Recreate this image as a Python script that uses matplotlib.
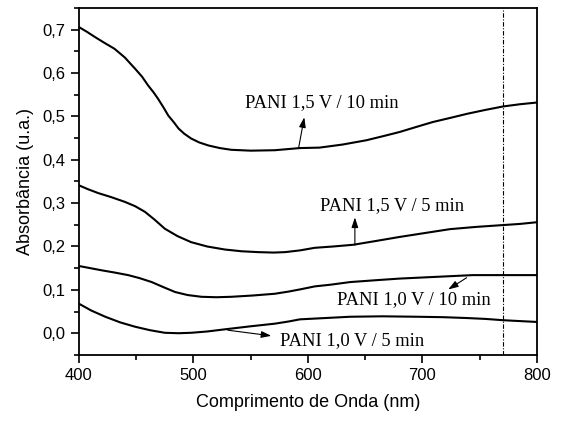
import matplotlib
matplotlib.use("Agg")
import matplotlib.pyplot as plt
from matplotlib.ticker import MultipleLocator, FuncFormatter

# Data
wl_a = [400, 407, 414, 422, 431, 440, 449, 455, 460.5, 465, 469, 474, 478, 483, 487, 492, 498, 505, 513, 523, 533, 550, 571,
        593, 610, 630, 651, 665, 680, 695, 709, 725, 739, 755, 770.6, 785, 800]
abs_a = [0.706, 0.695, 0.683, 0.670, 0.656, 0.636, 0.610, 0.592, 0.571, 0.556, 0.541, 0.520, 0.502, 0.486, 0.472, 0.460, 0.449, 0.440, 0.433, 0.427, 0.423, 0.421, 0.422,
         0.427, 0.428, 0.435, 0.445, 0.454, 0.464, 0.476, 0.487, 0.497, 0.506, 0.515, 0.523, 0.528, 0.532]

wl_b = [400, 408, 417, 428, 440, 449, 457.6, 466, 475, 486, 498, 512, 527.5, 542, 556.6, 570, 580, 593, 606, 622, 639.6, 660, 680, 702, 724, 746, 768, 785, 800]
abs_b = [0.341, 0.332, 0.323, 0.314, 0.303, 0.293, 0.280, 0.262, 0.241, 0.224, 0.210, 0.200, 0.193, 0.189, 0.187, 0.186, 0.187, 0.191, 0.197, 0.200, 0.204, 0.213, 0.222, 0.231, 0.240, 0.245, 0.249, 0.252, 0.256]

wl_c = [400, 410, 420, 431, 443, 453, 463.5, 474, 484, 495, 507, 520, 533, 552, 571, 583, 593, 606, 620, 637, 658, 680, 712, 744, 772, 800]
abs_c = [0.155, 0.150, 0.145, 0.140, 0.134, 0.127, 0.118, 0.106, 0.095, 0.088, 0.084, 0.083, 0.084, 0.087, 0.091, 0.096, 0.101, 0.108, 0.112, 0.118, 0.122, 0.126, 0.130, 0.134, 0.134, 0.134]

wl_d = [400, 411, 423, 436, 449, 462, 475, 487, 498, 512, 527.5, 550, 571, 583, 593, 615, 637, 665, 695, 718, 739, 755, 770.6, 785, 800]
abs_d = [0.068, 0.052, 0.038, 0.025, 0.015, 0.007, 0.001, 0.000, 0.001, 0.004, 0.009, 0.016, 0.022, 0.027, 0.032, 0.035, 0.038, 0.039, 0.038, 0.037, 0.035, 0.033, 0.030, 0.028, 0.026]

labels = ["PANI 1,5 V / 10 min", "PANI 1,5 V / 5 min", "PANI 1,0 V / 10 min", "PANI 1,0 V / 5 min"]
text_pos = [(545, 0.533), (610.5, 0.295), (625.6, 0.078), (575.5, -0.016)]
arrow_tail = [(591.9, 0.428), (641, 0.203), (738.6, 0.128), (530, 0.007)]
arrow_head = [(596.8, 0.498), (641, 0.267), (722.5, 0.101), (568, -0.006)]
vline_x = 770

fig = plt.figure(figsize=(5.64, 4.21), dpi=100)
ax = fig.add_axes([0.140, 0.157, 0.812, 0.824])

for x, y in [(wl_a, abs_a), (wl_b, abs_b), (wl_c, abs_c), (wl_d, abs_d)]:
    ax.plot(x, y, color="black", lw=1.5, solid_joinstyle="round")

ax.axvline(vline_x, color="black", lw=0.8, linestyle=(0, (4, 1.5, 1, 1.5)))

for lab, tp, tl, hd in zip(labels, text_pos, arrow_tail, arrow_head):
    ax.text(tp[0], tp[1], lab, family="Liberation Serif", fontsize=13.3,
            ha="left", va="center", color="black")
    ax.annotate("", xy=hd, xytext=tl,
                arrowprops=dict(arrowstyle="-|>,head_length=0.6,head_width=0.2", color="black", lw=0.8,
                                mutation_scale=10, shrinkA=0, shrinkB=0))

ax.set_xlim(400, 800)
ax.set_ylim(-0.05, 0.75)
ax.xaxis.set_major_locator(MultipleLocator(100))
ax.xaxis.set_minor_locator(MultipleLocator(50))
ax.yaxis.set_major_locator(MultipleLocator(0.1))
ax.yaxis.set_minor_locator(MultipleLocator(0.05))
ax.yaxis.set_major_formatter(FuncFormatter(lambda v, p: f"{v:.1f}".replace(".", ",").replace("-0,0", "0,0")))

ax.tick_params(which="both", direction="out", top=False, right=False, width=1.2, labelsize=12)
ax.tick_params(which="major", length=6)
ax.tick_params(which="minor", length=3.5)
for lbl in ax.get_xticklabels() + ax.get_yticklabels():
    lbl.set_family("Liberation Sans")
for s in ax.spines.values():
    s.set_linewidth(1.3)

ax.set_xlabel("Comprimento de Onda (nm)", family="Liberation Sans", fontsize=13, labelpad=8)
ax.set_ylabel("Absorbância (u.a.)", family="Liberation Sans", fontsize=13, labelpad=6)

fig.savefig("out.png", dpi=100)
